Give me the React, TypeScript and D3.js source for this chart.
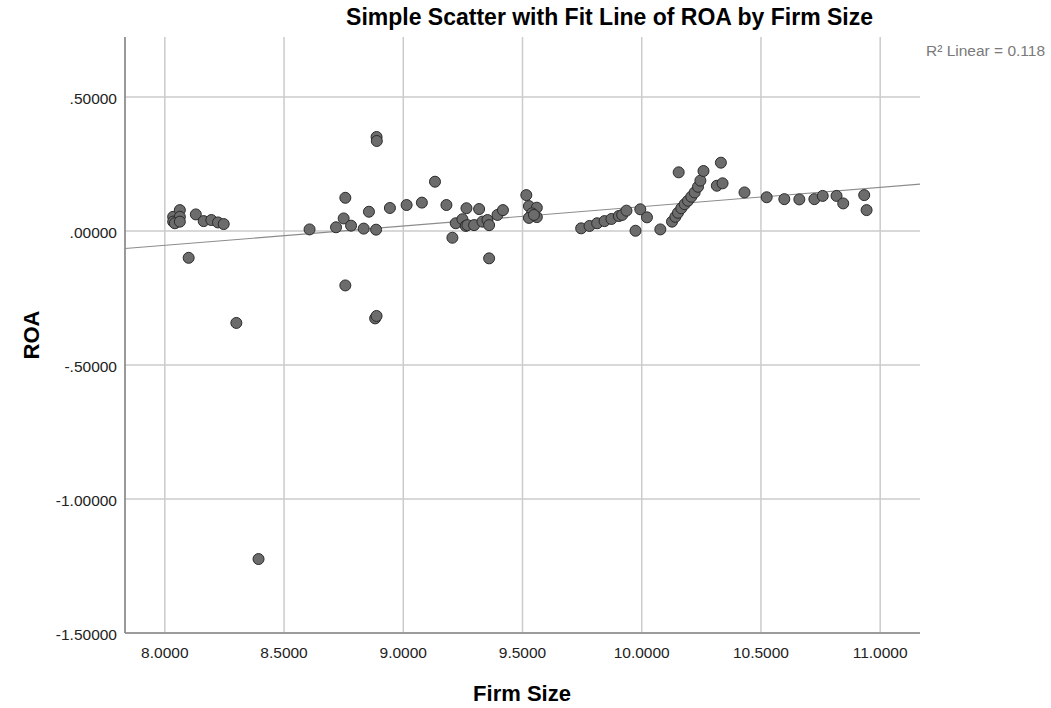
import React from 'react'
import * as d3 from 'd3'

// Firm Size (x) and ROA (y)
const firmSize = [
  8.035, 8.063, 8.035, 8.063, 8.042, 8.063, 8.13, 8.163, 8.195, 8.223, 8.247, 8.1, 8.3, 8.393,
  8.607, 8.718, 8.757, 8.75, 8.781, 8.834, 8.856, 8.886, 8.757, 8.882, 8.888, 8.888, 8.889,
  8.944, 9.014, 9.078, 9.133, 9.181, 9.206, 9.22, 9.248, 9.265, 9.262, 9.269, 9.297, 9.318,
  9.332, 9.353, 9.36, 9.36, 9.395, 9.418, 9.516, 9.527, 9.56, 9.54, 9.527, 9.56, 9.548,
  9.746, 9.781, 9.813, 9.844, 9.873, 9.904, 9.918, 9.936, 9.974, 9.994, 10.022, 10.078,
  10.127, 10.141, 10.152, 10.166, 10.18, 10.194, 10.208, 10.222, 10.236, 10.246, 10.259,
  10.155, 10.332, 10.315, 10.339, 10.431, 10.524, 10.598, 10.661, 10.724, 10.759, 10.817,
  10.845, 10.933, 10.943,
]
const roa = [
  0.053, 0.078, 0.035, 0.053, 0.029, 0.035, 0.062, 0.037, 0.041, 0.032, 0.026, -0.1, -0.343, -1.224,
  0.006, 0.014, 0.124, 0.047, 0.02, 0.009, 0.072, 0.005, -0.203, -0.326, -0.317, 0.351, 0.336,
  0.086, 0.097, 0.106, 0.184, 0.097, -0.025, 0.029, 0.044, 0.085, 0.019, 0.022, 0.022, 0.082,
  0.035, 0.041, 0.022, -0.102, 0.06, 0.078, 0.134, 0.093, 0.087, 0.066, 0.049, 0.052, 0.06,
  0.01, 0.019, 0.029, 0.037, 0.045, 0.056, 0.06, 0.076, 0.001, 0.081, 0.051, 0.006,
  0.035, 0.053, 0.068, 0.085, 0.1, 0.113, 0.128, 0.144, 0.165, 0.188, 0.224,
  0.219, 0.255, 0.169, 0.178, 0.144, 0.126, 0.119, 0.118, 0.119, 0.131, 0.131,
  0.103, 0.134, 0.078,
]

const xTicks = [8, 8.5, 9, 9.5, 10, 10.5, 11]
const yTicks = [0.5, 0, -0.5, -1, -1.5]
const yTickLabels = ['.50000', '.00000', '-.50000', '-1.00000', '-1.50000']

// linear fit shown in the chart (R² = 0.118)
const fitIntercept = -0.6302
const fitSlope = 0.0721
const rSquared = '0.118'

const W = 1051
const H = 708
const left = 125
const right = 920
const top = 37
const bottom = 633

export default function App() {
  const x = d3.scaleLinear().domain([7.833, 11.167]).range([left, right])
  const y = d3.scaleLinear().domain([-1.5, 0.724]).range([bottom, top])
  const font = 'Arial, "Liberation Sans", sans-serif'

  const [x0, x1] = x.domain()
  const fit = d3
    .line<number>()
    .x(d => x(d))
    .y(d => y(fitIntercept + fitSlope * d))([x0, x1])

  return (
    <svg width={W} height={H} style={{ position: 'absolute', left: 0, top: 0 }} fontFamily={font}>
      <rect width={W} height={H} fill="white" />
      <text x={873} y={25} textAnchor="end" fontSize={23} fontWeight="bold" fill="#000">
        Simple Scatter with Fit Line of ROA by Firm Size
      </text>

      {/* grid */}
      <g stroke="#cbcbcb" strokeWidth={1.5}>
        {xTicks.map(t => (
          <line key={'gx' + t} x1={x(t)} x2={x(t)} y1={top} y2={bottom} />
        ))}
        {yTicks.map(t => (
          <line key={'gy' + t} x1={left} x2={right} y1={y(t)} y2={y(t)} />
        ))}
      </g>

      {/* axes */}
      <g stroke="#888" strokeWidth={1.7}>
        <line x1={left} x2={left} y1={top} y2={bottom} />
        <line x1={left} x2={right} y1={bottom} y2={bottom} />
      </g>

      {yTicks.map((t, i) => (
        <text key={'yl' + t} x={117} y={y(t) + 2} dy="0.35em" textAnchor="end" fontSize={15.5} fill="#222">
          {yTickLabels[i]}
        </text>
      ))}
      {xTicks.map(t => (
        <text key={'xl' + t} x={x(t)} y={658} textAnchor="middle" fontSize={15.5} fill="#222">
          {t.toFixed(4)}
        </text>
      ))}

      <text x={522} y={701} textAnchor="middle" fontSize={22} fontWeight="bold" fill="#000">
        Firm Size
      </text>
      <text
        transform={`translate(39,${(top + bottom) / 2}) rotate(-90)`}
        textAnchor="middle"
        fontSize={22}
        fontWeight="bold"
        fill="#000"
      >
        ROA
      </text>

      <clipPath id="plot">
        <rect x={left} y={top} width={right - left} height={bottom - top} />
      </clipPath>
      <path d={fit ?? ''} stroke="#8c8c8c" strokeWidth={1.1} fill="none" clipPath="url(#plot)" />

      <g fill="#6c6c6c" stroke="#2b2b2b" strokeWidth={1}>
        {firmSize.map((fs, i) => (
          <circle key={i} cx={x(fs)} cy={y(roa[i])} r={5.5} />
        ))}
      </g>

      <text x={926} y={56} fontSize={15.5} fill="#7a7a7a">
        R² Linear = {rSquared}
      </text>
    </svg>
  )
}
